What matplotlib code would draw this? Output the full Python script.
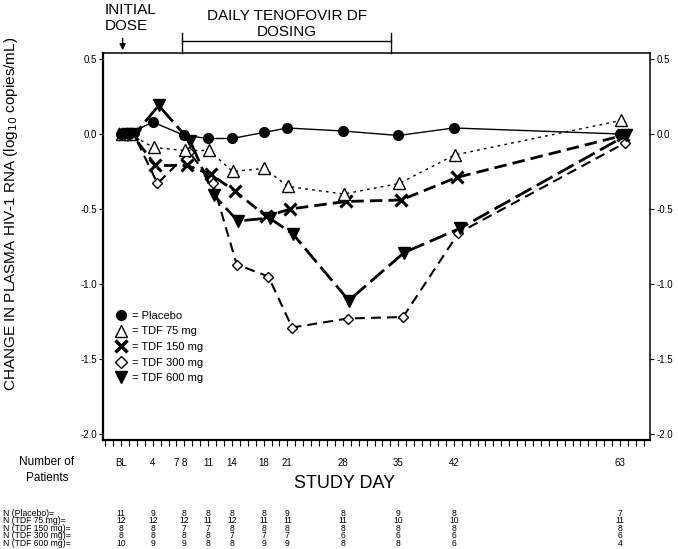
import numpy as np
import matplotlib.pyplot as plt
from matplotlib import font_manager
from matplotlib.lines import Line2D
from matplotlib.transforms import blended_transform_factory

plt.rcParams['font.family'] = ['Liberation Sans', 'DejaVu Sans']

# study days of the plasma samples
days = [0, 1, 4, 8, 11, 14, 18, 21, 28, 35, 42, 63]

# mean change in log10 HIV-1 RNA
placebo = [0, 0, 0.08, -0.01, -0.03, -0.03, 0.01, 0.04, 0.02, -0.01, 0.04, 0.0]
tdf75 = [0, 0, -0.09, -0.11, -0.11, -0.25, -0.23, -0.35, -0.40, -0.33, -0.14, 0.09]
tdf150 = [0, 0, -0.21, -0.21, -0.27, -0.38, -0.55, -0.50, -0.45, -0.44, -0.29, -0.01]
tdf300 = [0, 0, -0.33, -0.12, -0.33, -0.87, -0.95, -1.29, -1.23, -1.22, -0.66, -0.06]
tdf600 = [0, 0, 0.19, -0.05, -0.41, -0.58, -0.56, -0.67, -1.11, -0.79, -0.63, -0.01]

# axis labels for study days
tick_days = [0, 4, 7, 8, 11, 14, 18, 21, 28, 35, 42, 63]
tick_text = ['BL', '4', '7', '8', '11', '14', '18', '21', '28', '35', '42', '63']

# number of patients table
n_days = [0, 4, 8, 11, 14, 18, 21, 28, 35, 42, 63]
n_labels = ['N (Placebo)=', 'N (TDF 75 mg)=', 'N (TDF 150 mg)=', 'N (TDF 300 mg)=', 'N (TDF 600 mg)=']
n_placebo = [11, 9, 8, 8, 8, 8, 9, 8, 9, 8, 7]
n_tdf75 = [12, 12, 12, 11, 12, 11, 11, 11, 10, 10, 11]
n_tdf150 = [8, 8, 7, 7, 8, 8, 8, 8, 8, 8, 8]
n_tdf300 = [8, 8, 8, 8, 7, 7, 7, 6, 6, 6, 6]
n_tdf600 = [10, 9, 9, 8, 8, 9, 9, 8, 8, 6, 4]

# narrow font for the patient table if there is one
names = set(f.name for f in font_manager.fontManager.ttflist)
narrow = ['Liberation Sans Narrow'] if 'Liberation Sans Narrow' in names else []
table_font = narrow + ['Liberation Sans', 'DejaVu Sans']

fig = plt.figure(figsize=(6.78, 5.49), dpi=100)
ax = fig.add_axes([0.152, 0.1985, 0.807, 0.705])

d = np.array(days, dtype=float)
ax.plot(d, placebo, color='black', lw=1, marker='o', ms=7, zorder=5)
ax.plot(d + 0.1, tdf75, color='black', lw=1, dashes=(2, 3), marker='^', ms=8,
        mfc='white', mec='black', mew=1, zorder=4)
ax.plot(d + 0.35, tdf150, color='black', lw=2, dashes=(4.5, 2.2), marker='x', ms=8,
        mew=2.2, zorder=3)
ax.plot(d + 0.6, tdf300, color='black', lw=1.5, dashes=(4.8, 2.9), marker='D', ms=5.5,
        mfc='white', mec='black', mew=1, zorder=3)
ax.plot(d + 0.75, tdf600, color='black', lw=2, dashes=(6.5, 2.2), marker='v', ms=8,
        zorder=3)

ax.set_xlim(-2.27, 66.8)
ax.set_ylim(-2.04, 0.54)

yt = [0.5, 0.0, -0.5, -1.0, -1.5, -2.0]
ax.set_yticks(yt)
ax.set_yticklabels(['%.1f' % v for v in yt])
ax.tick_params(axis='y', which='both', left=True, right=True, labelleft=True,
               labelright=True, direction='out', length=3, labelsize=7, pad=1.5)

xt = list(range(-2, 67))
ax.set_xticks(xt)
ax.set_xticklabels([tick_text[tick_days.index(t)] if t in tick_days else '' for t in xt])
ax.tick_params(axis='x', direction='out', length=4, labelsize=7, pad=9)

for s in ['left', 'bottom']:
    ax.spines[s].set_linewidth(1.6)
for s in ['top', 'right']:
    ax.spines[s].set_linewidth(1.1)

ax.set_ylabel('CHANGE IN PLASMA HIV-1 RNA (log$_{10}$ copies/mL)', fontsize=11)
ax.yaxis.set_label_coords(-0.152, 0.585)

handles = [
    Line2D([], [], ls='none', color='black', marker='o', ms=7),
    Line2D([], [], ls='none', color='black', marker='^', ms=9, mfc='white', mew=1),
    Line2D([], [], ls='none', color='black', marker='x', ms=8, mew=2.5),
    Line2D([], [], ls='none', color='black', marker='D', ms=6, mfc='white', mew=1),
    Line2D([], [], ls='none', color='black', marker='v', ms=8),
]
ax.legend(handles, ['= Placebo', '= TDF 75 mg', '= TDF 150 mg', '= TDF 300 mg', '= TDF 600 mg'],
          loc='upper left', bbox_to_anchor=(0.012, 0.345), frameon=False, fontsize=8,
          handlelength=1.2, handletextpad=0.45, labelspacing=0.5, borderaxespad=0)

# dosing annotations above the plot
tr = blended_transform_factory(ax.transData, ax.transAxes)
ax.plot([7.7, 34.1], [1.031, 1.031], color='black', lw=1, transform=tr, clip_on=False)
ax.plot([7.7, 7.7], [1.0, 1.052], color='black', lw=1, transform=tr, clip_on=False)
ax.plot([34.1, 34.1], [1.0, 1.052], color='black', lw=1, transform=tr, clip_on=False)
ax.annotate('', xy=(0.2, 1.0), xycoords=tr, xytext=(0.2, 1.045), textcoords=tr,
            arrowprops=dict(arrowstyle='-|>', color='black', lw=1, mutation_scale=9))

fig.text(105 / 678, 1 - 3 / 549, 'INITIAL\nDOSE', fontsize=11, ha='left', va='top', linespacing=1.15)
fig.text(287 / 678, 1 - 9 / 549, 'DAILY TENOFOVIR DF\nDOSING', fontsize=11, ha='center',
         va='top', linespacing=1.15)

fig.text(47 / 678, 1 - 470 / 549, 'Number of\nPatients', fontsize=8.5, ha='center', va='center',
         linespacing=1.5)
fig.text(345 / 678, 1 - 484 / 549, 'STUDY DAY', fontsize=13, ha='center', va='center')

# patient counts under the axis
ftr = blended_transform_factory(ax.transData, fig.transFigure)
rows = [n_placebo, n_tdf75, n_tdf150, n_tdf300, n_tdf600]
for i, (lab, vals) in enumerate(zip(n_labels, rows)):
    yy = 1 - (513 + 7.6 * i) / 549
    fig.text(3 / 678, yy, lab, fontsize=6.2, ha='left', va='center', family=table_font)
    for dd, v in zip(n_days, vals):
        ax.text(dd, yy, str(v), fontsize=6.2, ha='center', va='center', transform=ftr,
                clip_on=False, family=table_font)

plt.savefig('out.png', dpi=100)
